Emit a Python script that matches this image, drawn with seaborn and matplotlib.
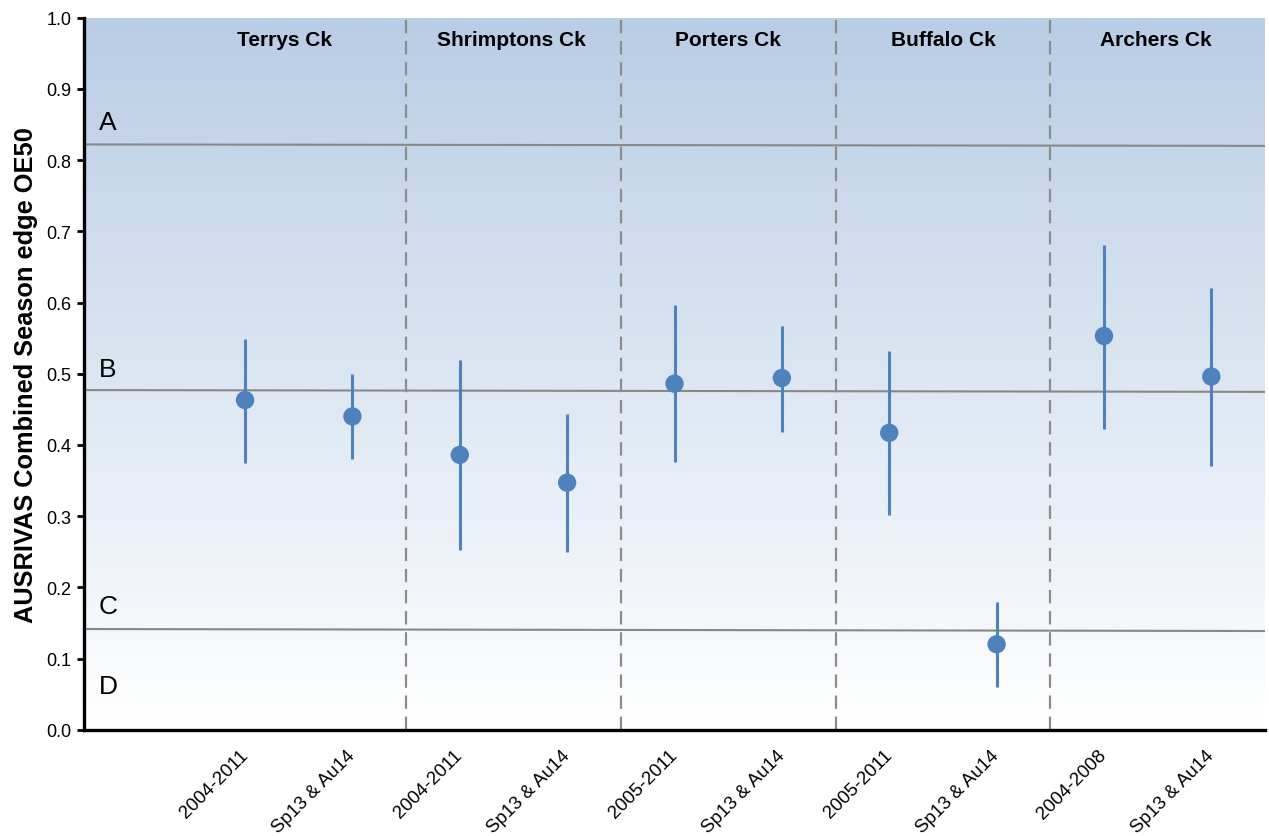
import numpy as np
import pandas as pd
import matplotlib
matplotlib.use("Agg")
import matplotlib.pyplot as plt
import matplotlib.transforms as mtransforms
from matplotlib.colors import LinearSegmentedColormap
import seaborn as sns

# ---- data ----
sites = ["Terrys Ck", "Shrimptons Ck", "Porters Ck", "Buffalo Ck", "Archers Ck"]
periods = ["2004-2011", "Sp13 & Au14", "2004-2011", "Sp13 & Au14", "2005-2011",
           "Sp13 & Au14", "2005-2011", "Sp13 & Au14", "2004-2008", "Sp13 & Au14"]
oe50_mean = [0.463, 0.440, 0.386, 0.347, 0.486, 0.494, 0.417, 0.120, 0.553, 0.496]
oe50_upper = [0.549, 0.500, 0.519, 0.443, 0.596, 0.567, 0.532, 0.180, 0.681, 0.620]
oe50_lower = [0.375, 0.380, 0.253, 0.250, 0.376, 0.418, 0.301, 0.060, 0.422, 0.371]
band_labels = ["A", "B", "C", "D"]
band_left = [0.822, 0.477, 0.1414]
band_right = [0.820, 0.4745, 0.1386]

df = pd.DataFrame({"pos": np.arange(len(periods)), "period": periods,
                   "mean": oe50_mean, "lo": oe50_lower, "hi": oe50_upper})

sns.set_theme(style="white")
plt.rcParams["font.family"] = ["Liberation Sans", "DejaVu Sans"]
plt.rcParams["text.color"] = "black"
plt.rcParams["axes.labelcolor"] = "black"
plt.rcParams["xtick.color"] = "black"
plt.rcParams["ytick.color"] = "black"

fig = plt.figure(figsize=(12.69, 8.37), dpi=100)
ax = fig.add_axes([84 / 1269, (837 - 730.7) / 837, (1265 - 84) / 1269, (730.7 - 18.7) / 837])

# gradient background
cmap = LinearSegmentedColormap.from_list("bg", ["#ffffff", "#b9cde5"])
grad = np.linspace(0, 1, 256).reshape(-1, 1)
ax.imshow(grad, cmap=cmap, origin="lower", aspect="auto",
          extent=[0, 1, 0, 1], transform=ax.transAxes, zorder=0)

color = "#4f81bd"
ax.vlines(df["pos"], df["lo"], df["hi"], color=color, lw=2.2, zorder=3)
sns.scatterplot(data=df, x="pos", y="mean", ax=ax, color=color, s=175,
                edgecolor="none", zorder=4)

xmin, xmax = -1.5, 9.5
# band boundary lines
for l, r in zip(band_left, band_right):
    ax.plot([xmin, xmax], [l, r], color="#888888", lw=1.5, zorder=2)

# site dividers
for xd in [1.5, 3.5, 5.5, 7.5]:
    ax.axvline(xd, color="#8c8c8c", lw=1.6, ls=(0, (6, 3.5)), zorder=2)

# band letters
for lab, yv in zip(band_labels, [0.853, 0.506, 0.174, 0.062]):
    ax.text(-1.36, yv, lab, fontsize=19, ha="left", va="center", color="black", zorder=5)

# site labels
for s, xs in zip(sites, [0.37, 2.48, 4.5, 6.5, 8.48]):
    ax.text(xs, 0.970, s, fontsize=15, fontweight="bold", ha="center", va="center",
            color="black", zorder=5)

ax.set_xlim(xmin, xmax)
ax.set_ylim(0, 1.0)
ax.set_yticks(np.arange(0, 1.01, 0.1))
ax.set_yticklabels([f"{v:.1f}" for v in np.arange(0, 1.01, 0.1)], fontsize=13)
ax.set_xticks(df["pos"])
ax.set_xticklabels(periods, rotation=45, ha="right", va="top", rotation_mode="anchor", fontsize=13.5)
ax.tick_params(axis="x", length=0, pad=12)
ax.tick_params(axis="y", length=5, width=2, direction="out", color="black", pad=4, left=True)
offset = mtransforms.ScaledTranslation(-6 / 100, 0, fig.dpi_scale_trans)
for lbl in ax.get_xticklabels():
    lbl.set_transform(lbl.get_transform() + offset)
ax.set_xlabel("")
ax.set_ylabel("AUSRIVAS Combined Season edge OE50", fontsize=18.3, fontweight="bold",
              labelpad=6, color="black")

for side in ["top", "right"]:
    ax.spines[side].set_visible(False)
for side in ["left", "bottom"]:
    ax.spines[side].set_color("black")
    ax.spines[side].set_linewidth(2.4)
    ax.spines[side].set_zorder(6)

fig.savefig("out.png", dpi=100)
